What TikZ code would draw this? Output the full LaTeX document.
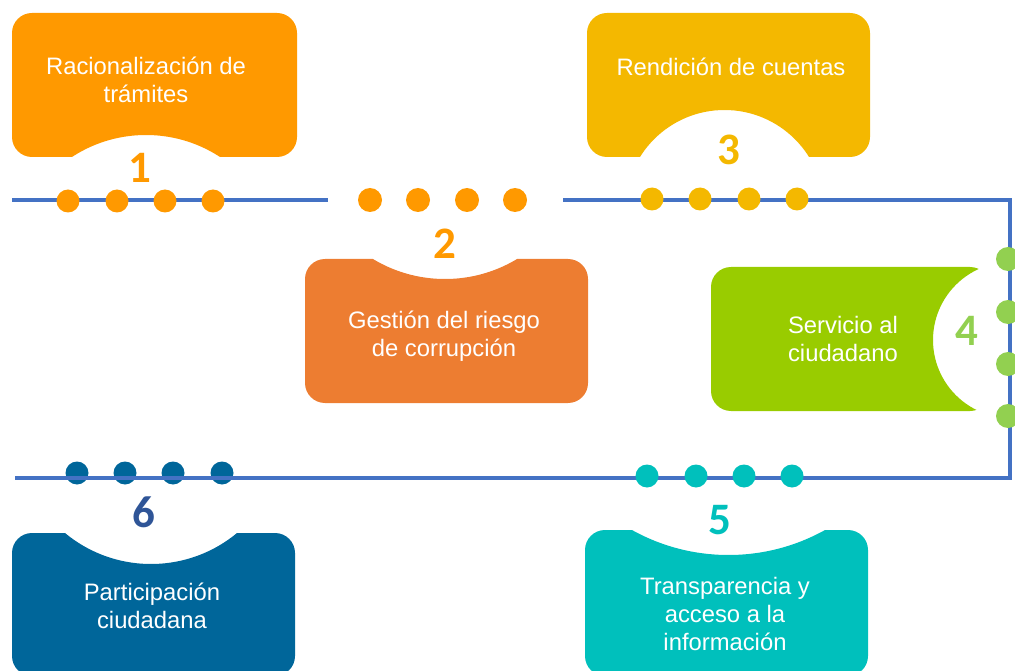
\documentclass[tikz,border=0pt]{standalone}
\usepackage{fontspec}
\setmainfont{Liberation Sans}
\newfontfamily\numfont{Carlito}
\definecolor{lineblue}{HTML}{4472C4}
\definecolor{orangeA}{HTML}{FF9900}
\definecolor{orangeB}{HTML}{ED7D31}
\definecolor{yellowC}{HTML}{F4B800}
\definecolor{greenD}{HTML}{99CC00}
\definecolor{greenDot}{HTML}{92D050}
\definecolor{tealE}{HTML}{00C0BC}
\definecolor{blueF}{HTML}{00669A}
\definecolor{navyF}{HTML}{2F5597}
% rounded box with a round bite: colour, corner 1, corner 2, bite centre, bite radius
\newcommand{\bitebox}[5]{%
  \begin{scope}
    \clip[rounded corners=20pt] (#2) rectangle (#3);
    \fill[#1,even odd rule] ([shift={(-6,-6)}]#2) rectangle ([shift={(6,6)}]#3)
      (#4) circle (#5);
  \end{scope}}
\begin{document}
\begin{tikzpicture}[x=1pt,y=-1pt]
  \tikzset{
    boxtext/.style={text=white,align=center,anchor=north,inner sep=0pt,
      font=\fontsize{23.8}{28}\selectfont},
    number/.style={inner sep=0pt,font=\numfont\bfseries\fontsize{45}{45}\selectfont},
    track/.style={lineblue,line width=3.5pt},
  }
  \useasboundingbox (0,0) rectangle (1015,671);
  \clip (0,0) rectangle (1015,671);

  % the six boxes
  \bitebox{orangeA}{12,13}{297,157}{146,270.5}{135.5}
  \bitebox{orangeB}{305,259}{588,403}{445,139.4}{139.6}
  \bitebox{yellowC}{587,13}{870,157}{724.5,209.5}{99.5}
  \bitebox{greenD}{711,267}{990,411}{1011,340}{78}
  \bitebox{tealE}{585,530}{868,676}{728.5,356.3}{198.7}
  \bitebox{blueF}{12,533}{295,676}{151,429.2}{134.8}

  % dots under the line
  \foreach \x in {77,125,173,222} \fill[blueF] (\x,473) circle (11.5);

  % the line
  \draw[track] (12,200) -- (328,200);
  \draw[track] (563,200) -- (1010,200) -- (1010,478) -- (15,478);

  % dots over the line
  \foreach \x in {68,117,165,213} \fill[orangeA] (\x,201) circle (11.5);
  \foreach \x in {370,418,467,515} \fill[orangeA] (\x,200) circle (12);
  \foreach \x in {652,700,749,797} \fill[yellowC] (\x,199) circle (11.5);
  \foreach \y in {259,312,364,416} \fill[greenDot] (1008,\y) circle (12);
  \foreach \x in {647,696,744,792} \fill[tealE] (\x,476) circle (11.5);

  % numbers
  \node[number,text=orangeA] (n1) at (140,168) {1};
  \node[number,text=orangeA] (n2) at (445,244) {2};
  \node[number,text=yellowC] (n3) at (729,150) {3};
  \node[number,text=greenDot] (n4) at (967,331) {4};
  \node[number,text=tealE] (n5) at (720,520) {5};
  \node[number,text=navyF] (n6) at (144,512) {6};

  % texts
  \node[boxtext] (t1) at (146,57) {Racionalización de\\trámites};
  \node[boxtext] (t2) at (444,311) {Gestión del riesgo\\de corrupción};
  \node[boxtext] (t3) at (731,58) {Rendición de cuentas};
  \node[boxtext] (t4) at (843,316) {Servicio al\\ciudadano};
  \node[boxtext] (t5) at (725,577) {Transparencia y\\acceso a la\\información};
  \node[boxtext] (t6) at (152,583) {Participación\\ciudadana};
\end{tikzpicture}
\end{document}
